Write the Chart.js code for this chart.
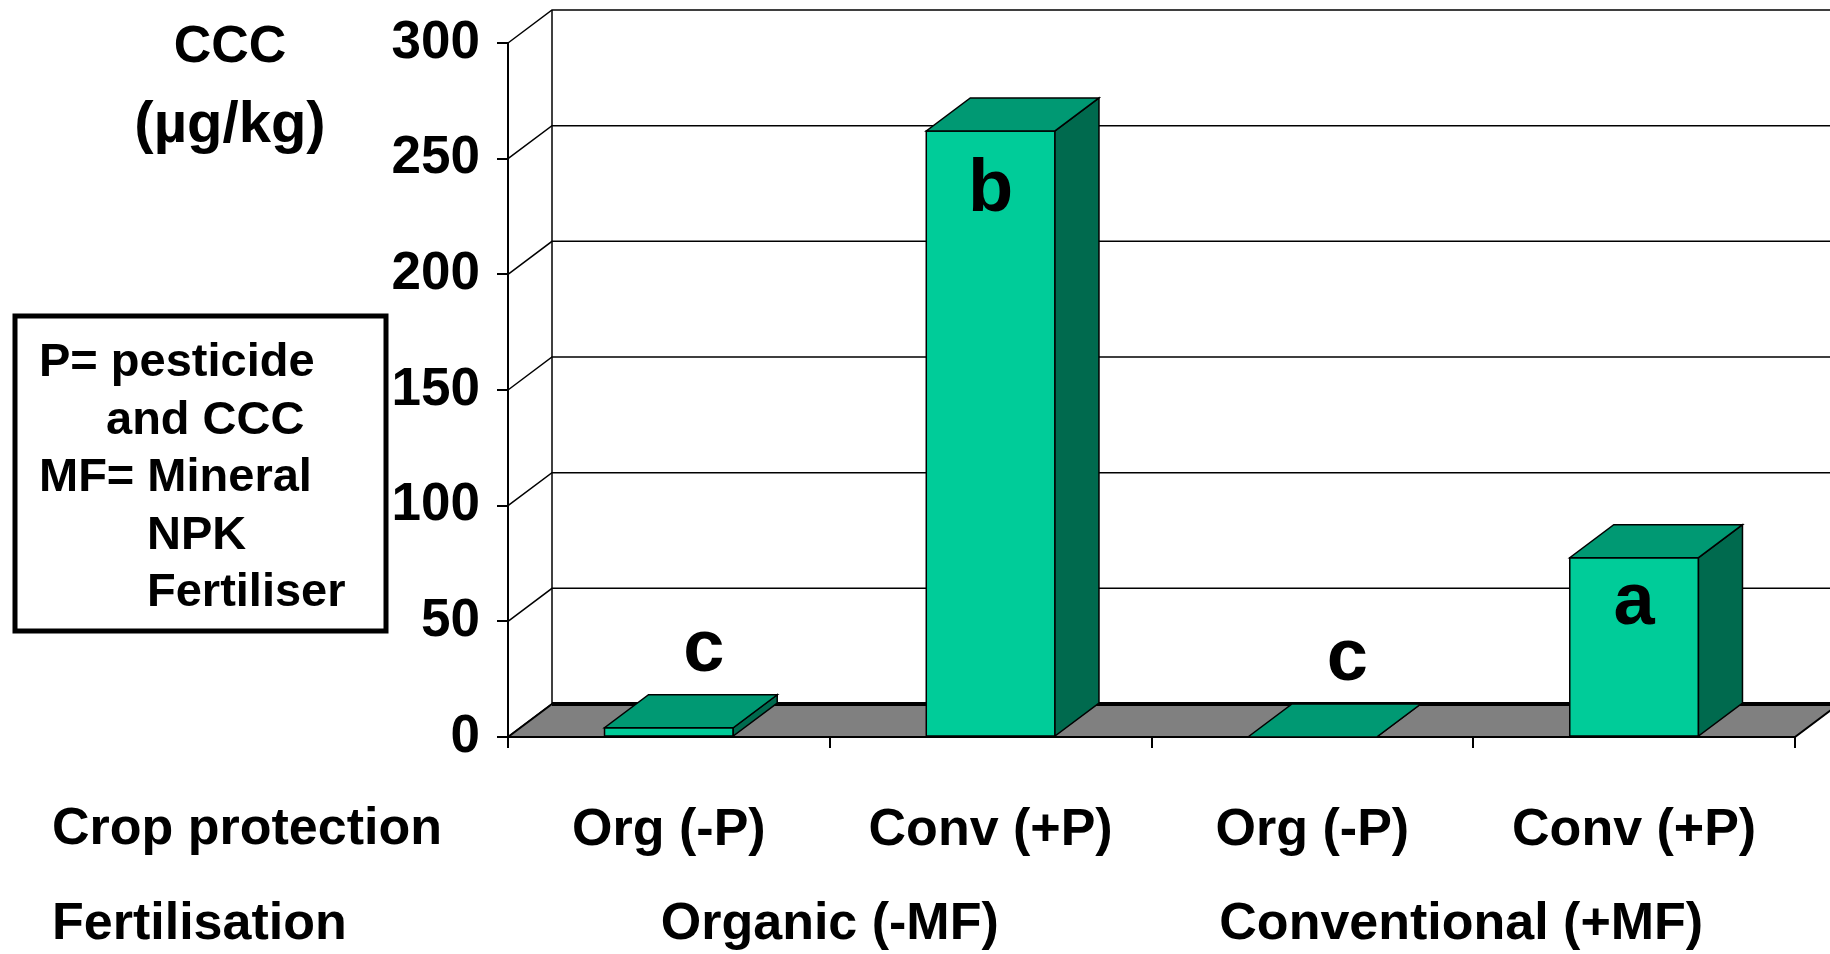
<!DOCTYPE html>
<html>
<head>
<meta charset="utf-8">
<script src="https://cdn.jsdelivr.net/npm/chart.js@4"></script>
<style>
  body { margin: 0; background: #fff; }
  #wrap { width: 1830px; height: 954px; }
</style>
</head>
<body>
<div id="wrap"><canvas id="barChart" width="1830" height="954"></canvas></div>
<script>
const CHART = document.getElementById("barChart");

// data
const categories = ['Org (-P)', 'Conv (+P)', 'Org (-P)', 'Conv (+P)'];
const groups = ['Organic (-MF)', 'Conventional (+MF)'];
const values = [4, 262, 0, 77.5];
const letters = ['c', 'b', 'c', 'a'];
const yMin = 0, yMax = 300, yStep = 50;
const titleLines = ['CCC', '(µg/kg)'];
const rowTitles = ['Crop protection', 'Fertilisation'];
const noteLines = ['P= pesticide', 'and CCC', 'MF= Mineral', 'NPK', 'Fertiliser'];

const FONT = "'Liberation Sans', Arial, sans-serif";
const DX = 44, DY = -33;   /* depth of the 3d box */

Chart.defaults.font.family = FONT;
Chart.defaults.color = '#000';

function poly(ctx, pts, fill) {
    ctx.beginPath();
    ctx.moveTo(pts[0][0], pts[0][1]);
    for (let i = 1; i < pts.length; i++) ctx.lineTo(pts[i][0], pts[i][1]);
    ctx.closePath();
    if (fill) { ctx.fillStyle = fill; ctx.fill(); }
    ctx.stroke();
}

const box3d = {
    id: 'box3d',
    beforeDatasetsDraw(chart) {
        const {ctx, chartArea: a, scales: {y}} = chart;
        ctx.save();
        ctx.strokeStyle = '#000';
        ctx.lineWidth = 1.5;
        // back wall grid
        y.ticks.forEach(t => {
            const py = y.getPixelForValue(t.value);
            ctx.beginPath();
            ctx.moveTo(a.left, py);
            ctx.lineTo(a.left + DX, py + DY);
            ctx.lineTo(chart.width, py + DY);
            ctx.stroke();
        });
        ctx.beginPath();
        ctx.moveTo(a.left + DX, a.top + DY);
        ctx.lineTo(a.left + DX, a.bottom + DY);
        ctx.stroke();
        // floor
        ctx.lineWidth = 2;
        poly(ctx, [[a.left, a.bottom], [a.right, a.bottom], [a.right + DX, a.bottom + DY], [a.left + DX, a.bottom + DY]], '#808080');
        ctx.lineWidth = 4;
        ctx.beginPath();
        ctx.moveTo(a.left + DX, a.bottom + DY);
        ctx.lineTo(a.right + DX, a.bottom + DY);
        ctx.stroke();
        ctx.restore();
    },
    afterDatasetsDraw(chart) {
        const ctx = chart.ctx;
        const meta = chart.getDatasetMeta(0);
        ctx.save();
        ctx.strokeStyle = '#000';
        ctx.lineWidth = 1.5;
        ctx.lineJoin = 'miter';
        meta.data.forEach((bar, i) => {
            const l = bar.x - bar.width / 2, r = bar.x + bar.width / 2, t = bar.y, b = bar.base;
            if (b - t > 0.5) poly(ctx, [[l, t], [r, t], [r, b], [l, b]], null);
            poly(ctx, [[r, t], [r + DX, t + DY], [r + DX, b + DY], [r, b]], '#006A4E');
            poly(ctx, [[l, t], [r, t], [r + DX, t + DY], [l + DX, t + DY]], '#009973');

            // significance letters
            ctx.fillStyle = '#000';
            ctx.font = 'bold 74px ' + FONT;
            ctx.textAlign = 'center';
            ctx.textBaseline = 'alphabetic';
            const m = ctx.measureText(letters[i]);
            if (b - t > 100) {
                ctx.fillText(letters[i], bar.x, t + 26 + m.actualBoundingBoxAscent);
            } else {
                ctx.fillText(letters[i], bar.x + 35, t + DY - 24);
            }
        });
        ctx.restore();
    },
    afterDraw(chart) {
        const {ctx, scales: {x}} = chart;
        ctx.save();
        ctx.fillStyle = '#000';
        ctx.textBaseline = 'middle';

        // y title
        ctx.font = 'bold 52px ' + FONT;
        ctx.textAlign = 'center';
        ctx.fillText(titleLines[0], 230, 48);
        ctx.font = 'bold 58px ' + FONT;
        ctx.fillText(titleLines[1], 230, 126);

        // row headers and group labels
        ctx.font = 'bold 52px ' + FONT;
        ctx.textAlign = 'left';
        ctx.fillText(rowTitles[0], 52, 830);
        ctx.fillText(rowTitles[1], 52, 925);
        ctx.textAlign = 'center';
        groups.forEach((g, i) => {
            ctx.fillText(g, x.getPixelForValue(i * 2 + 0.5) - i * 12, 925);
        });

        // note box
        ctx.lineWidth = 5;
        ctx.strokeStyle = '#000';
        ctx.strokeRect(15, 316, 371, 315);
        ctx.font = 'bold 47px ' + FONT;
        ctx.textAlign = 'left';
        ctx.textBaseline = 'alphabetic';
        const indent = [0, 67, 0, 108, 108];
        noteLines.forEach((s, i) => {
            ctx.fillText(s, 39 + indent[i], 376 + i * 57.5);
        });
        ctx.restore();
    }
};

let barChart = new Chart(CHART, {
    type: 'bar',
    data: {
        labels: categories,
        datasets: [{
            data: values,
            backgroundColor: '#00CC99',
            borderWidth: 0,
            barPercentage: 0.4,
            categoryPercentage: 1
        }]
    },
    options: {
        responsive: false,
        animation: false,
        devicePixelRatio: 1,
        layout: {padding: {top: 43, right: 35, left: 0, bottom: 0}},
        plugins: {legend: {display: false}, tooltip: {enabled: false}},
        scales: {
            x: {
                grid: {offset: true, drawOnChartArea: false, drawTicks: true, tickLength: 11, color: '#000', lineWidth: 2},
                border: {display: true, color: '#000', width: 2},
                ticks: {font: {size: 52, weight: 'bold'}, color: '#000', padding: 51, maxRotation: 0, autoSkip: false},
                afterFit: s => { s.height = 217; s.paddingLeft = 0; s.paddingRight = 0; }
            },
            y: {
                min: yMin,
                max: yMax,
                grid: {drawOnChartArea: false, drawTicks: true, tickLength: 11, color: '#000', lineWidth: 2},
                border: {display: true, color: '#000', width: 2},
                ticks: {stepSize: yStep, font: {size: 53, weight: 'bold'}, color: '#000', padding: 17},
                afterFit: s => { s.width = 508; s.paddingTop = 0; s.paddingBottom = 0; }
            }
        }
    },
    plugins: [box3d]
});
</script>
</body>
</html>
